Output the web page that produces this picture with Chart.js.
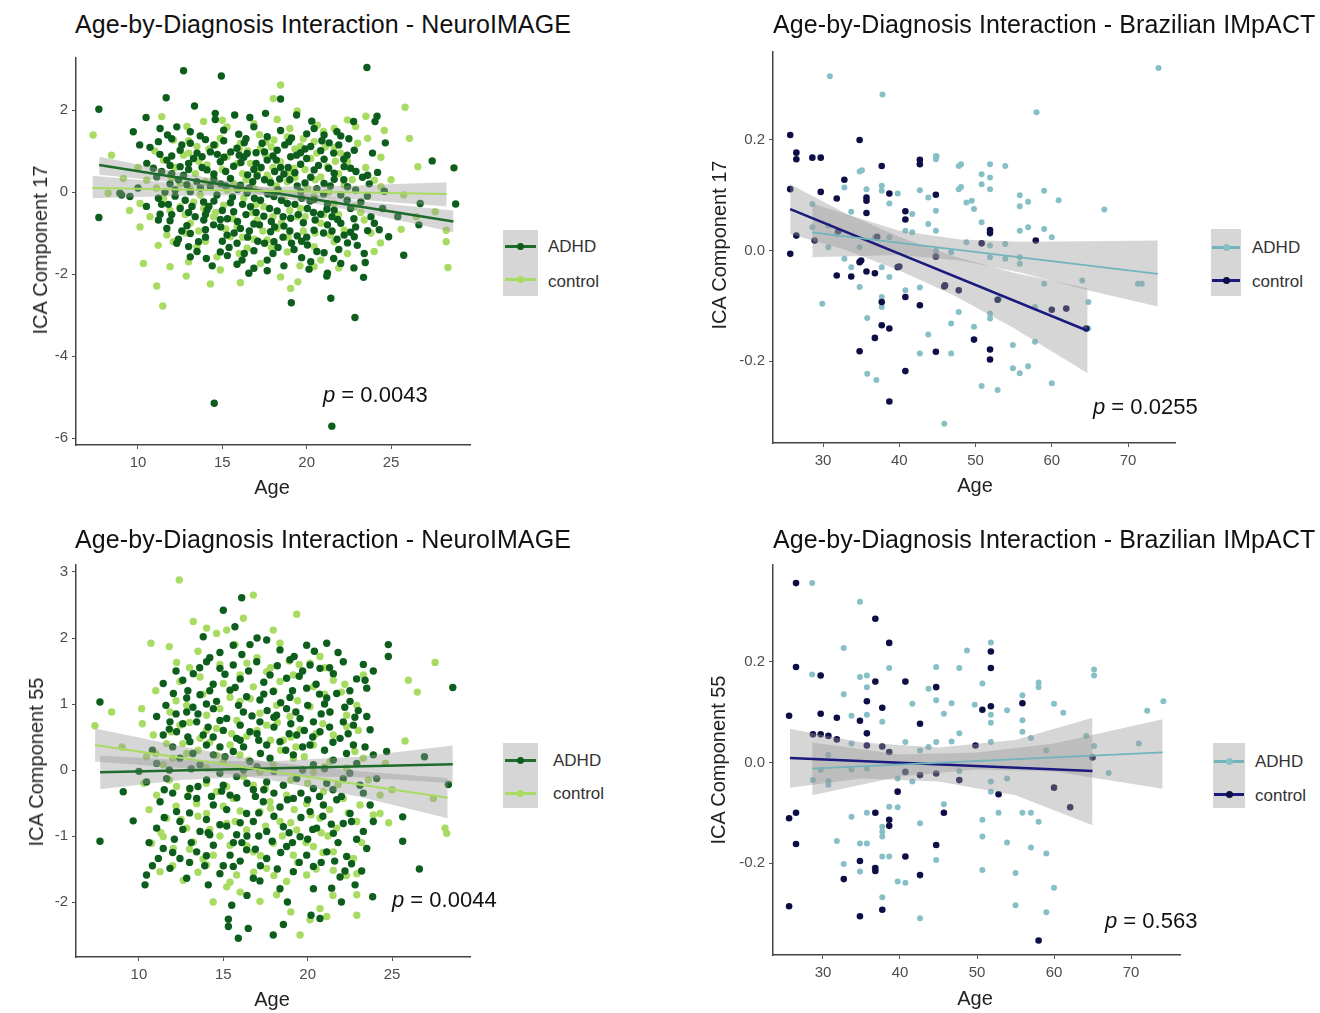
<!DOCTYPE html>
<html>
<head>
<meta charset="utf-8">
<script src="https://cdn.jsdelivr.net/npm/chart.js@4.4.0/dist/chart.umd.min.js"></script>
<style>
  body { margin:0; background:#fff; width:1320px; height:1013px; position:relative; overflow:hidden;
         font-family:"Liberation Sans", Arial, sans-serif; }
  canvas { position:absolute; }
  .txt { position:absolute; white-space:nowrap; line-height:1; color:#111; }
  .title { font-size:25px; letter-spacing:0.1px; }
  .ytitle { font-size:20px; transform:translate(-50%,-50%) rotate(-90deg); color:#222; }
  .xtitle { font-size:20px; transform:translate(-50%,-50%); color:#222; }
  .pval { font-size:22px; transform:translateY(-50%); }
  .leglab { font-size:17px; transform:translateY(-50%); color:#333; }
  .legbox { position:absolute; background:#d6d6d6; }
  .legline { position:absolute; height:3px; }
  .legdot { position:absolute; width:7px; height:7px; border-radius:50%; }
</style>
</head>
<body>
<canvas id="tl"></canvas>
<canvas id="tr"></canvas>
<canvas id="bl"></canvas>
<canvas id="br"></canvas>

<div class="txt title" style="left:75px; top:12px;">Age-by-Diagnosis Interaction - NeuroIMAGE</div>
<div class="txt title" style="left:773px; top:12px;">Age-by-Diagnosis Interaction - Brazilian IMpACT</div>
<div class="txt title" style="left:75px; top:527px;">Age-by-Diagnosis Interaction - NeuroIMAGE</div>
<div class="txt title" style="left:773px; top:527px;">Age-by-Diagnosis Interaction - Brazilian IMpACT</div>

<div class="txt ytitle" style="left:40px; top:250px;">ICA Component 17</div>
<div class="txt ytitle" style="left:719px; top:245px;">ICA Component 17</div>
<div class="txt ytitle" style="left:36px; top:762px;">ICA Component 55</div>
<div class="txt ytitle" style="left:718px; top:760px;">ICA Component 55</div>

<div class="txt xtitle" style="left:272px; top:487px;">Age</div>
<div class="txt xtitle" style="left:975px; top:485px;">Age</div>
<div class="txt xtitle" style="left:272px; top:999px;">Age</div>
<div class="txt xtitle" style="left:975px; top:998px;">Age</div>

<div class="txt pval" style="left:323px; top:395px;"><i>p</i> = 0.0043</div>
<div class="txt pval" style="left:1093px; top:407px;"><i>p</i> = 0.0255</div>
<div class="txt pval" style="left:392px; top:900px;"><i>p</i> = 0.0044</div>
<div class="txt pval" style="left:1105px; top:921px;"><i>p</i> = 0.563</div>

<!-- legends -->
<div class="legbox" style="left:503px; top:230px; width:35px; height:66px;"></div>
<div class="legline" style="left:505px; top:245px; width:31px; background:#1f6b2b;"></div>
<div class="legdot" style="left:517px; top:243px; background:#0d5e1c;"></div>
<div class="legline" style="left:505px; top:278px; width:31px; background:#a8db62;"></div>
<div class="legdot" style="left:517px; top:276px; background:#a8db62;"></div>
<div class="txt leglab" style="left:548px; top:246px;">ADHD</div>
<div class="txt leglab" style="left:548px; top:281px;">control</div>

<div class="legbox" style="left:1211px; top:229px; width:30px; height:67px;"></div>
<div class="legline" style="left:1212px; top:246px; width:28px; background:#72b4bc;"></div>
<div class="legdot" style="left:1223px; top:244px; background:#86c0c6;"></div>
<div class="legline" style="left:1212px; top:279px; width:28px; background:#1a1a7e;"></div>
<div class="legdot" style="left:1223px; top:277px; background:#0e0e47;"></div>
<div class="txt leglab" style="left:1252px; top:247px;">ADHD</div>
<div class="txt leglab" style="left:1252px; top:281px;">control</div>

<div class="legbox" style="left:503px; top:743px; width:35px; height:65px;"></div>
<div class="legline" style="left:505px; top:759px; width:31px; background:#1f6b2b;"></div>
<div class="legdot" style="left:517px; top:757px; background:#0d5e1c;"></div>
<div class="legline" style="left:505px; top:792px; width:31px; background:#a8db62;"></div>
<div class="legdot" style="left:517px; top:790px; background:#a8db62;"></div>
<div class="txt leglab" style="left:553px; top:760px;">ADHD</div>
<div class="txt leglab" style="left:553px; top:793px;">control</div>

<div class="legbox" style="left:1213px; top:743px; width:32px; height:65px;"></div>
<div class="legline" style="left:1214px; top:760px; width:30px; background:#72b4bc;"></div>
<div class="legdot" style="left:1226px; top:758px; background:#86c0c6;"></div>
<div class="legline" style="left:1214px; top:793px; width:30px; background:#1a1a7e;"></div>
<div class="legdot" style="left:1226px; top:791px; background:#0e0e47;"></div>
<div class="txt leglab" style="left:1255px; top:761px;">ADHD</div>
<div class="txt leglab" style="left:1255px; top:795px;">control</div>

<script>
// ---------- NeuroIMAGE, component 17 (top left) ----------
const tlXTicks = [10, 15, 20, 25];
const tlYTicks = [-6, -4, -2, 0, 2];
const tlAdhdPts = [
  [12.7,2.96],[14.94,2.83],[23.57,3.04],[7.68,2.02],[11.67,2.3],[18.45,2.27],[7.68,-0.62],[9.72,1.47],[10.48,1.82],
  [13.35,2.1],[14.58,1.92],[14.58,1.77],[15.73,1.88],[16.63,1.82],[17.56,1.92],[19.4,1.88],[20.3,1.73],[22.78,1.72],
  [24.17,1.85],[24.05,1.72],[24.66,1.2],[27.44,0.76],[28.73,0.59],[28.83,-0.29],[26.73,-0.28],[25.75,-1.54],
  [22.86,-3.06],[19.09,-2.7],[21.43,-2.59],[23.37,-2.08],[23.47,-1.72],[21.19,-2.05],[20.14,-1.88],[17.66,-1.92],
  [16.57,-1.98],[14.05,-1.62],[13.1,-1.58],[16.17,-1.66],[12.4,-1.15],[11.21,-0.68],[9.03,-0.07],[9.52,-0.11],
  [24.86,-1.09],[26.65,-0.8],[22.82,-1.09],[22.02,-0.76],[21.63,-0.44],[14.52,-5.15],[21.49,-5.71],
  [11.31,1.55],[11.75,1.39],[12.3,1.59],[13.1,1.47],[13.69,1.37],[15.08,1.51],[15.97,1.41],[16.87,1.59],[17.66,1.35],
  [18.45,1.5],[20.44,1.55],[21.03,1.39],[21.79,1.47],[22.02,1.37],
  [10.71,1.09],[11.21,1.23],[12.5,1.02],[13.1,1.19],[14.29,0.98],[15.08,1.25],[15.87,1.07],[16.47,0.94],[17.36,1.19],
  [18.25,1.02],[18.95,1.23],[19.64,0.96],[20.24,1.11],[20.83,1.01],[21.33,1.2],[22.82,1.02],
  [10.52,0.7],[10.91,0.58],[11.71,0.78],[12.5,0.62],[13.29,0.82],[14.09,0.54],[14.88,0.74],[15.67,0.63],[16.27,0.85],
  [16.87,0.55],[17.66,0.78],[18.45,0.6],[19.05,0.86],[19.64,0.68],[20.44,0.54],[21.03,0.8],[21.63,0.46],[22.22,0.62],
  [22.92,0.5],[23.61,0.41],
  [11.11,0.37],[11.9,0.2],[12.7,0.41],[13.49,0.25],[14.29,0.13],[15.48,0.33],[16.07,0.17],[17.06,0.39],[17.86,0.23],
  [18.65,0.44],[19.44,0.15],[20.24,0.36],[21.03,0.21],[21.63,0.31],[22.42,0.13],[23.31,0.36],[23.71,0.2],
  [8.93,-0.03],[11.21,-0.15],[13.1,0.01],[13.89,-0.24],[14.68,-0.07],[15.48,-0.26],[16.47,-0.02],[17.26,-0.2],
  [18.06,-0.11],[18.85,-0.28],[19.64,0.01],[20.44,-0.18],[21.23,-0.29],[22.02,-0.07],[23.21,-0.24],
  [11.31,-0.54],[12.5,-0.4],[13.39,-0.6],[14.09,-0.44],[14.88,-0.67],[15.67,-0.48],[16.67,-0.36],[17.46,-0.59],
  [18.25,-0.46],[19.05,-0.64],[20.04,-0.4],[20.83,-0.54],[21.83,-0.67],[23.81,-0.6],[24.01,-0.76],
  [11.71,-0.89],[13.1,-1.01],[14.48,-0.8],[15.28,-1.05],[16.07,-0.89],[16.87,-0.78],[17.86,-0.97],[18.65,-0.83],
  [19.44,-1.07],[20.44,-0.93],[21.23,-0.8],[22.22,-1.05],[23.61,-0.94],
  [13.0,-1.33],[13.59,-1.21],[14.88,-1.46],[15.87,-1.25],[16.87,-1.43],[18.06,-1.21],[19.25,-1.4],[20.04,-1.29],
  [21.03,-1.48],[22.42,-1.24],[23.41,-1.5],
  [15.87,-1.76],[16.87,-1.86],[17.66,-1.66],[18.65,-1.8],[20.24,-1.7],[21.23,-1.98],[22.02,-1.74],
  [12.0,1.3],[14.0,1.28],[16.4,1.3],[19.1,1.32],[20.0,1.42],[22.5,1.3],[10.1,1.15],
  [11.3,0.92],[12.0,0.88],[13.8,0.86],[14.7,0.92],[16.0,0.9],[17.0,0.96],[18.0,0.88],[19.4,0.9],[21.6,0.95],[22.4,0.9],[23.9,0.95],
  [11.4,0.5],[12.0,0.45],[13.0,0.55],[14.5,0.44],[15.2,0.5],[16.5,0.42],[17.3,0.6],[18.1,0.5],[19.3,0.47],[20.7,0.65],[22.6,0.58],[24.2,0.48],
  [10.0,0.1],[12.2,0.05],[12.9,0.18],[14.9,0.2],[15.9,0.06],[16.8,0.25],[18.3,0.05],[19.0,0.3],[20.6,0.08],[22.9,0.05],[24.6,0.02],
  [10.5,-0.35],[11.8,-0.3],[12.8,-0.2],[14.2,-0.35],[15.0,-0.45],[16.2,-0.3],[17.8,-0.4],[19.3,-0.3],[20.2,-0.22],[21.2,-0.42],
  [22.6,-0.4],[24.5,-0.4],[25.4,-0.6],
  [11.9,-0.7],[12.9,-0.82],[13.9,-0.68],[15.9,-0.72],[17.2,-0.8],[18.6,-0.6],[19.8,-0.75],[20.5,-0.68],[21.5,-0.95],[22.9,-0.85],[24.3,-0.92],
  [12.3,-1.25],[14.0,-1.1],[15.0,-1.2],[16.5,-1.1],[17.5,-1.25],[18.6,-1.1],[19.7,-1.2],[21.8,-1.15],[23.0,-1.3],
  [14.4,-1.8],[15.3,-1.55],[18.0,-1.5],[19.7,-1.6],[21.6,-1.62],[22.8,-1.85],
  [12.6,1.15],[13.5,0.95],[14.5,1.15],[15.5,0.98],[16.3,1.2],[17.5,0.98],[18.7,1.15],[19.9,1.05],[20.9,1.25],[21.9,1.15],
  [11.9,0.65],[13.0,0.7],[13.8,0.6],[15.1,0.85],[16.1,0.72],[17.0,0.7],[18.2,0.78],[18.9,0.6],[20.0,0.82],[21.3,0.58],[22.2,0.8],
  [11.6,0.0],[12.4,0.3],[13.7,0.1],[14.5,0.3],[15.2,0.15],[16.6,0.1],[17.5,0.3],[18.4,0.32],[19.9,0.22],[21.4,0.15],[22.2,0.3],
  [11.4,-0.3],[12.2,-0.1],[13.2,-0.35],[14.5,-0.22],[15.6,-0.12],[16.9,-0.15],[17.7,-0.05],[18.5,-0.2],[19.7,-0.15],
  [21.0,-0.05],[22.4,-0.2],[23.6,-0.1],
  [12.0,-0.55],[13.0,-0.5],[14.0,-0.55],[15.3,-0.65],[16.4,-0.55],[17.0,-0.5],[17.9,-0.72],[19.5,-0.55],[20.4,-0.5],
  [21.5,-0.6],[22.8,-0.65],
  [12.6,-0.95],[14.0,-0.92],[14.9,-0.85],[15.7,-1.0],[16.6,-0.95],[18.1,-0.85],[19.0,-0.95],[20.0,-1.1],[21.0,-1.0],[22.6,-0.98],
  [13.5,-1.45],[15.4,-1.35],[16.3,-1.5],[17.1,-1.2],[18.3,-1.35],[19.1,-1.25],[20.6,-1.45],[21.9,-1.4]
];
const tlCtrlPts = [
  [7.34,1.39],[18.45,2.61],[18.02,2.28],[25.83,2.07],[26.09,1.31],[26.59,0.62],[25.75,-0.07],[25.6,-0.91],[28.27,-1.21],
  [28.37,-1.84],[27.62,-0.48],[10.12,-0.85],[10.32,-1.74],[11.11,-2.29],[11.47,-2.78],[11.9,-1.82],[12.86,-2.05],
  [14.29,-2.24],[16.07,-2.21],[19.05,-2.35],[19.48,-2.19],[24.37,-1.24],[23.51,1.85],[11.41,1.84],[8.43,0.9],
  [9.13,0.33],[8.23,-0.03],[24.4,0.13],[28.27,-0.93],
  [13.89,1.72],[15.28,1.59],[16.87,1.67],[18.25,1.77],[19.44,1.98],[20.63,1.63],[21.63,1.55],[22.42,1.76],
  [12.1,1.27],[13.49,1.11],[14.88,1.31],[16.07,1.19],[17.26,1.07],[18.06,1.27],[18.85,1.35],[19.64,1.12],[20.44,1.23],
  [21.63,1.09],[23.02,1.19],[23.61,1.31],
  [11.51,0.78],[12.7,0.9],[14.09,0.66],[15.28,0.86],[16.67,0.7],[17.56,0.9],[18.45,0.74],[19.25,0.58],[20.24,0.82],
  [21.23,0.62],[22.42,0.74],
  [10.52,0.29],[11.9,0.41],[13.1,0.09],[14.48,0.37],[15.67,0.21],[16.87,0.09],[17.66,0.41],[18.85,0.25],[20.04,0.09],
  [20.83,0.37],[22.22,0.17],[24.01,0.29],
  [10.12,-0.28],[11.51,-0.15],[12.5,-0.36],[13.69,-0.07],[15.08,-0.32],[16.27,-0.15],[17.46,-0.36],[18.65,-0.2],
  [19.64,-0.4],[20.44,-0.11],[21.63,-0.28],[22.82,-0.36],
  [10.71,-0.6],[11.71,-1.05],[13.1,-0.76],[14.48,-0.6],[15.87,-0.85],[17.06,-0.68],[18.25,-0.89],[19.44,-0.6],
  [20.83,-0.76],[22.22,-0.93],[23.41,-0.68],
  [12.1,-1.21],[13.49,-1.33],[14.68,-1.58],[15.48,-1.09],[16.47,-1.37],[17.66,-1.17],[18.85,-1.46],[20.44,-1.33],
  [21.63,-1.21],[22.42,-1.5],
  [14.88,-1.9],[17.26,-1.74],[18.45,-2.07],[20.44,-1.82],[20.83,-1.66],
  [12.9,1.6],[15.0,1.75],[17.2,1.4],[19.0,1.55],[21.0,1.48],[22.9,1.6],[24.6,1.5],
  [11.0,1.0],[13.0,1.25],[14.2,1.05],[16.5,1.0],[17.9,1.1],[19.8,1.3],[21.1,1.1],[22.0,0.95],[24.4,0.85],
  [10.0,0.6],[12.2,0.6],[13.6,0.75],[15.9,0.7],[17.1,0.5],[18.0,0.6],[19.9,0.55],[21.7,0.75],[23.5,0.6],
  [11.1,0.1],[12.5,0.2],[14.0,0.25],[15.3,0.05],[16.4,0.3],[18.2,0.15],[19.3,0.35],[21.3,0.0],[22.7,0.3],[25.0,0.3],
  [9.5,-0.45],[11.9,-0.45],[13.3,-0.25],[14.6,-0.5],[16.8,-0.5],[18.0,-0.6],[19.0,-0.45],[21.0,-0.55],[23.2,-0.5],[26.5,-0.6],
  [11.2,-1.3],[12.8,-1.0],[14.0,-1.2],[16.2,-1.1],[17.4,-0.95],[19.8,-0.95],[21.4,-1.05],[23.8,-1.0],
  [13.0,-1.7],[16.0,-1.5],[17.9,-1.35],[19.6,-1.8],[21.9,-1.85],[24.0,-1.45],
  [13.0,0.95],[14.6,1.15],[16.0,1.05],[17.6,1.22],[19.3,1.05],[20.6,0.95],
  [12.0,0.35],[13.4,0.45],[15.0,0.55],[16.2,0.45],[17.8,0.3],[19.0,0.45],[20.5,0.3],[21.9,0.45],
  [12.8,-0.55],[13.9,-0.4],[15.6,-0.65],[17.0,-0.3],[18.5,-0.75],[19.9,-0.6],[21.9,-0.55],
  [13.6,-0.95],[15.2,-0.9],[16.9,-1.15],[18.9,-1.1],[20.5,-1.0]
];
const tlAdhdLineAge = [7.7, 28.7];
const tlAdhdLineVal = [0.66, -0.72];
const tlCtrlLineAge = [7.3, 28.3];
const tlCtrlLineVal = [0.1, -0.05];
const tlAdhdBandAge = [7.7, 12.5, 17.5, 23, 28.7];
const tlAdhdBandHi = [0.86, 0.47, 0.11, -0.22, -0.45];
const tlAdhdBandLo = [0.42, 0.23, -0.07, -0.47, -0.98];
const tlCtrlBandAge = [7.3, 12.5, 17.5, 23, 28.3];
const tlCtrlBandHi = [0.4, 0.21, 0.13, 0.16, 0.24];
const tlCtrlBandLo = [-0.15, -0.09, -0.07, -0.18, -0.35];

// ---------- Brazilian IMpACT, component 17 (top right) ----------
const trXTicks = [30, 40, 50, 60, 70];
const trYTicks = [-0.2, 0, 0.2];
const trCtrlPts = [
  [25.7,0.209],[25.7,0.111],[25.7,-0.006],[26.5,0.177],[26.5,0.165],[26.5,0.027],[28.6,0.168],[29.7,0.168],[29.7,0.106],
  [28.9,0.018],[31.8,0.094],[31.8,-0.045],[32.8,0.128],[33.7,-0.047],[34.8,0.2],[34.8,-0.021],[34.8,-0.182],[35.7,0.096],
  [35.7,0.09],[35.7,0.068],[35.7,-0.038],[36.8,-0.041],[36.8,-0.158],[37.7,0.153],[37.7,-0.093],[37.7,-0.135],
  [38.7,0.103],[38.7,-0.141],[38.7,-0.273],[39.8,-0.03],[40.8,0.071],[40.8,0.056],[40.8,-0.084],[40.8,-0.218],
  [42.7,0.164],[42.7,0.156],[42.7,-0.099],[44.8,0.101],[44.8,-0.011],[44.8,-0.183],[45.9,-0.065],[47.8,-0.072],
  [49.8,-0.161],[50.8,0.013],[51.9,0.037],[51.9,0.032],[51.9,-0.179],[51.9,-0.197],[52.9,-0.089],[57.9,0.018],
  [60.0,-0.107],[61.9,-0.105],[64.5,-0.141],[32.0,0.035],[37.1,0.025],[46.0,-0.063],[35.0,-0.018],[40.0,-0.029]
];
const trAdhdPts = [
  [30.9,0.315],[37.8,0.282],[74.0,0.33],[58.0,0.25],[34.8,0.143],[32.8,0.114],[33.7,0.07],[28.6,0.084],[29.9,-0.096],
  [28.6,0.042],[30.7,0.045],[32.8,-0.015],[33.7,-0.03],[34.8,-0.066],[35.7,0.111],[35.8,-0.122],[35.8,-0.223],
  [36.8,0.024],[37.0,-0.234],[37.7,0.117],[37.7,0.108],[37.7,-0.03],[37.7,-0.084],[37.7,-0.102],[38.7,0.085],
  [38.7,-0.048],[38.7,0.024],[39.8,0.103],[40.8,0.036],[40.8,-0.072],[41.7,0.066],[42.7,0.109],[42.7,-0.067],
  [42.7,-0.186],[43.8,-0.152],[43.8,0.096],[43.8,0.048],[44.8,0.171],[44.8,0.165],[44.8,0.072],[44.8,0.036],[44.8,0.0],
  [45.9,-0.313],[46.8,-0.003],[46.8,-0.186],[46.8,-0.132],[47.8,0.153],[47.8,0.111],[47.8,-0.111],[48.8,0.087],
  [48.8,0.015],[49.8,0.075],[49.8,-0.138],[50.8,0.138],[50.8,0.12],[50.8,0.051],[50.8,-0.245],[51.9,0.156],
  [51.9,0.132],[51.9,0.111],[51.9,0.03],[51.9,0.009],[51.9,-0.012],[51.9,-0.114],[51.9,-0.123],[52.9,-0.252],
  [53.9,0.153],[53.9,0.012],[53.9,-0.015],[54.9,-0.171],[54.9,-0.213],[55.8,0.1],[55.8,0.08],[55.8,0.036],
  [55.8,-0.012],[55.8,-0.024],[55.8,-0.222],[56.9,0.088],[56.9,0.042],[56.9,-0.209],[57.8,-0.165],[57.8,-0.102],
  [59.0,0.108],[59.0,0.039],[59.0,-0.06],[60.0,0.024],[60.0,-0.24],[60.9,0.091],[64.0,-0.054],[64.8,-0.093],
  [64.8,-0.141],[66.9,0.074],[71.3,-0.06],[71.8,-0.06],[30.7,0.006],[31.8,0.03],[34.8,0.006],[41.7,0.033],
  [48.1,0.156],[48.1,0.115],[49.5,0.09],[35.1,0.145],[44.9,0.17],[53.1,-0.087]
];
const trCtrlLineAge = [25.7, 64.7];
const trCtrlLineVal = [0.075, -0.145];
const trAdhdLineAge = [28.6, 73.9];
const trAdhdLineVal = [0.033, -0.042];
const trCtrlBandAge = [25.7, 33, 40, 47, 55, 64.7];
const trCtrlBandHi = [0.12, 0.067, 0.025, -0.01, -0.04, -0.068];
const trCtrlBandLo = [0.03, 0.001, -0.036, -0.08, -0.14, -0.222];
const trAdhdBandAge = [28.6, 40, 48, 56, 64.7, 73.9];
const trAdhdBandHi = [0.085, 0.036, 0.02, 0.016, 0.017, 0.018];
const trAdhdBandLo = [-0.012, -0.008, -0.018, -0.04, -0.072, -0.101];

// ---------- NeuroIMAGE, component 55 (bottom left) ----------
const blXTicks = [10, 15, 20, 25];
const blYTicks = [-2, -1, 0, 1, 2, 3];
const blAdhdPts = [
  [7.69,1.03],[7.69,-1.08],[9.07,-0.33],[9.66,-0.77],[16.09,2.61],[15.0,2.42],[15.69,2.17],[28.6,1.25],[28.34,-0.22],
  [24.78,1.9],[24.78,1.72],[26.92,0.2],[25.63,-0.71],[25.63,-1.08],[26.62,-1.5],[23.85,-1.92],[15.89,-2.55],
  [15.3,-2.26],[15.3,-2.37],[16.48,-2.4],[17.96,-2.5],[18.56,-2.34],[20.73,-2.25],[21.13,1.92],[23.3,1.6],[23.89,1.5],
  [23.4,1.36],[10.45,-1.59],[10.36,-1.74],[11.15,-1.34],[14.11,-1.74],[17.17,-1.68],[18.36,-1.8],[20.34,-1.8],
  [21.42,-1.79],[22.21,-1.53],[22.81,-1.74],[23.2,-1.53],
  [13.81,2.02],[14.8,1.78],[15.59,1.89],[16.58,1.9],[17.57,1.97],[18.36,1.82],[18.95,1.67],[19.94,1.89],
  [11.44,1.31],[13.22,1.46],[14.01,1.64],[14.8,1.54],[15.59,1.59],[16.98,1.64],[17.77,1.44],[18.75,1.39],[20.14,1.59],
  [20.73,1.54],[21.52,1.46],[22.11,1.64],
  [12.04,1.16],[12.83,1.09],[13.62,1.14],[14.6,1.04],[15.4,1.21],[16.38,1.11],[17.17,1.06],[17.96,1.19],[18.95,1.1],
  [19.94,1.24],[21.13,1.09],[21.72,1.16],[22.51,1.04],[23.5,1.24],
  [11.05,0.81],[11.84,0.73],[12.83,0.88],[13.42,0.73],[14.41,0.93],[15.2,0.78],[16.19,0.88],[17.17,0.73],[18.16,0.83],
  [18.75,0.93],[19.55,0.78],[20.34,0.73],[21.32,0.88],[22.11,0.73],[22.71,0.68],[23.5,0.81],
  [11.44,0.53],[12.23,0.58],[13.02,0.43],[13.81,0.53],[14.8,0.35],[15.79,0.48],[16.58,0.58],[17.57,0.38],[18.36,0.43],
  [19.35,0.53],[20.14,0.38],[20.73,0.58],[21.92,0.48],[22.71,0.38],[23.7,0.61],
  [11.05,0.1],[12.43,0.18],[13.62,0.08],[14.41,0.23],[15.59,0.28],[16.58,0.13],[17.77,0.18],[19.15,0.23],[20.34,0.08],
  [21.52,0.15],[22.91,0.1],[23.89,0.23],[24.68,0.28],
  [10.45,-0.18],[11.64,-0.13],[13.02,-0.28],[14.01,-0.15],[15.0,-0.23],[15.79,-0.1],[16.78,-0.3],[17.57,-0.18],
  [18.56,-0.23],[19.35,-0.13],[20.34,-0.28],[21.13,-0.2],[22.11,-0.13],[23.1,-0.23],[24.09,-0.13],
  [11.25,-0.48],[12.23,-0.63],[13.42,-0.43],[14.41,-0.53],[15.4,-0.38],[16.38,-0.66],[17.37,-0.48],[18.36,-0.56],
  [19.15,-0.43],[20.14,-0.63],[20.93,-0.53],[21.72,-0.45],[22.51,-0.66],[23.7,-0.53],
  [11.05,-0.88],[12.43,-0.78],[13.62,-0.93],[14.8,-0.83],[15.79,-0.98],[16.78,-0.78],[17.57,-0.93],[18.56,-0.86],
  [19.55,-1.01],[20.53,-0.88],[21.52,-0.96],[22.11,-0.81],[23.3,-0.93],[23.89,-0.78],
  [11.44,-1.19],[12.43,-1.34],[13.42,-1.24],[14.41,-1.14],[15.4,-1.29],[16.38,-1.21],[17.57,-1.34],[18.75,-1.16],
  [19.94,-1.29],[21.13,-1.24],[22.31,-1.31],[23.5,-1.19],
  [11.84,-1.49],[12.83,-1.64],[14.8,-1.57],[15.59,-1.46],[16.78,-1.64],[19.15,-1.54],[20.34,-1.46],[21.92,-1.62],
  [14.2,1.7],[16.1,1.75],[17.0,2.0],[19.2,1.72],[20.4,1.8],[21.8,1.78],
  [12.6,1.36],[14.4,1.3],[16.0,1.38],[17.4,1.33],[19.5,1.42],[20.5,1.3],[22.9,1.38],
  [11.6,0.98],[13.2,0.95],[14.0,1.0],[15.9,0.98],[17.6,0.9],[18.4,1.02],[20.0,0.98],[21.0,1.0],[22.2,0.95],[23.0,0.9],
  [11.8,0.62],[12.6,0.7],[14.1,0.65],[15.0,0.6],[16.0,0.68],[17.0,0.55],[18.0,0.65],[19.0,0.7],[19.8,0.6],[21.3,0.65],[22.4,0.55],
  [10.8,0.3],[12.0,0.35],[13.2,0.25],[14.0,0.38],[15.1,0.2],[16.2,0.35],[17.2,0.25],[18.7,0.3],[19.7,0.35],[21.0,0.3],
  [22.3,0.25],[23.4,0.35],
  [10.0,-0.02],[11.8,0.0],[13.1,0.02],[14.8,-0.05],[16.2,0.0],[17.0,0.05],[18.0,-0.02],[19.7,0.0],[21.0,0.02],[22.5,-0.05],
  [12.0,-0.35],[12.9,-0.4],[14.9,-0.32],[15.8,-0.42],[16.9,-0.4],[18.0,-0.35],[19.6,-0.35],[20.7,-0.4],[21.5,-0.3],[23.3,-0.35],
  [11.5,-0.72],[13.0,-0.65],[14.0,-0.75],[15.2,-0.6],[16.0,-0.8],[17.1,-0.65],[18.0,-0.7],[19.6,-0.72],[20.9,-0.7],[22.6,-0.78],
  [10.6,-1.1],[12.1,-1.05],[13.1,-1.1],[14.2,-0.98],[15.6,-1.1],[16.4,-1.0],[17.9,-1.08],[19.1,-1.1],[20.0,-1.05],
  [21.8,-1.1],[22.9,-1.05],
  [10.8,-1.45],[13.0,-1.4],[13.9,-1.45],[16.0,-1.38],[17.2,-1.45],[18.2,-1.5],[20.8,-1.4],[22.6,-1.42],
  [15.5,-2.05],[16.4,-1.9],[18.8,-2.0],[20.2,-2.2],[22.0,-2.0],
  [12.2,1.5],[13.6,1.55],[15.1,1.45],[16.5,1.5],[18.2,1.58],[19.7,1.5],[21.3,1.55],
  [12.9,1.2],[14.2,1.2],[15.7,1.25],[17.4,1.15],[19.1,1.2],[20.7,1.15],[22.5,1.2],
  [12.2,0.85],[13.5,0.85],[14.8,0.75],[16.7,0.82],[18.0,0.8],[19.3,0.88],[20.8,0.85],[22.8,0.8],
  [12.9,0.5],[14.4,0.5],[16.0,0.45],[17.1,0.45],[18.9,0.55],[20.3,0.5],[21.5,0.42],
  [11.5,-0.3],[13.5,-0.25],[14.3,-0.4],[16.4,-0.2],[17.4,-0.3],[18.8,-0.45],[20.0,-0.45],[22.0,-0.4],
  [12.6,-0.9],[14.1,-0.95],[15.2,-0.85],[16.1,-1.1],[17.1,-1.0],[18.9,-0.95],[20.3,-0.9],[21.4,-0.82],
  [12.0,-1.25],[14.0,-1.3],[15.0,-1.45],[16.9,-1.2],[18.4,-1.25],[19.5,-1.4],[21.6,-1.38]
];
const blCtrlPts = [
  [12.39,2.88],[16.78,2.65],[16.19,2.3],[19.35,2.36],[17.96,2.12],[10.71,1.92],[11.8,1.87],[12.23,1.63],[13.22,2.25],
  [27.55,1.63],[25.97,1.36],[26.5,1.18],[7.39,0.67],[8.38,0.88],[10.16,0.93],[25.77,0.44],[28.14,-0.88],[28.24,-0.96],
  [27.45,-0.43],[24.29,-0.66],[22.91,-1.89],[22.91,-1.57],[21.13,-2.22],[20.14,-2.27],[19.55,-2.5],[17.17,-1.99],
  [18.16,-1.89],[20.73,-2.1],[22.91,-2.2],[15.2,-1.77],[11.44,-1.01],[10.75,-1.11],
  [14.01,2.15],[14.6,2.07],[15.2,2.12],[18.36,1.92],[20.14,1.62],[20.73,1.72],
  [12.43,1.34],[13.62,1.41],[15.0,1.31],[15.99,1.44],[16.78,1.26],[17.57,1.49],[18.36,1.34],[19.15,1.44],[20.34,1.26],
  [21.52,1.36],[23.3,1.44],
  [11.84,0.88],[12.83,0.98],[14.01,0.83],[14.8,0.93],[15.99,1.04],[17.17,0.86],[18.16,0.98],[18.95,0.81],[20.14,0.96],
  [21.32,0.88],[22.31,0.83],[22.91,0.98],
  [10.85,0.53],[11.64,0.4],[12.43,0.68],[13.62,0.48],[14.6,0.63],[15.4,0.38],[16.38,0.51],[17.57,0.68],[18.56,0.45],
  [19.55,0.61],[20.34,0.38],[21.52,0.53],[22.31,0.66],
  [10.45,0.2],[11.44,0.08],[12.83,0.25],[14.01,0.03],[15.0,0.13],[15.99,0.23],[17.17,-0.03],[17.96,0.08],[19.15,0.18],
  [20.34,-0.03],[21.32,0.13],[22.31,0.03],[23.3,0.18],
  [11.05,-0.38],[12.23,-0.25],[13.42,-0.51],[14.6,-0.33],[15.59,-0.43],[16.78,-0.23],[17.77,-0.48],[18.75,-0.38],
  [19.94,-0.51],[20.93,-0.33],[22.11,-0.43],[23.1,-0.53],[24.29,-0.38],
  [11.64,-0.73],[12.83,-0.88],[14.01,-0.66],[15.2,-0.81],[16.38,-0.91],[17.17,-0.63],[18.36,-0.78],[19.35,-0.91],
  [20.73,-0.73],[21.72,-0.88],[22.91,-0.78],[23.89,-0.68],
  [12.04,-1.19],[13.22,-1.09],[14.41,-1.29],[15.4,-1.14],[16.78,-1.24],[17.96,-1.11],[19.15,-1.29],[20.34,-1.16],
  [21.52,-1.24],[22.71,-1.34],
  [11.25,-1.54],[12.63,-1.67],[14.01,-1.44],[15.79,-1.59],[17.57,-1.49],[18.75,-1.69],[19.94,-1.59],[21.52,-1.52],
  [13.5,1.8],[15.7,1.9],[17.0,1.7],[18.9,1.65],[21.0,1.55],[22.2,1.3],
  [11.0,1.2],[12.2,1.05],[13.8,1.15],[15.4,1.1],[16.6,1.08],[18.0,1.2],[19.4,1.05],[21.0,1.15],[22.0,1.18],
  [10.2,0.7],[11.9,0.58],[13.0,0.72],[14.2,0.42],[15.8,0.75],[17.0,0.6],[18.2,0.72],[19.0,0.5],[20.9,0.7],[23.0,0.6],
  [9.0,0.35],[11.0,0.25],[12.0,0.18],[13.5,0.3],[14.6,0.22],[16.5,0.15],[18.4,0.3],[19.8,0.2],[21.0,0.05],[22.8,0.28],[24.6,0.1],
  [10.3,-0.2],[11.8,-0.15],[13.0,-0.3],[14.0,-0.2],[15.2,-0.25],[16.2,-0.1],[17.5,-0.28],[19.0,-0.15],[20.0,-0.2],
  [21.8,-0.22],[23.6,-0.15],[25.0,-0.3],
  [10.6,-0.6],[12.2,-0.55],[13.5,-0.7],[15.0,-0.55],[16.0,-0.62],[17.8,-0.58],[19.2,-0.6],[20.2,-0.68],[21.3,-0.6],
  [22.4,-0.65],[24.8,-0.8],
  [11.3,-0.95],[13.0,-1.2],[14.8,-1.0],[16.4,-1.15],[18.5,-1.0],[19.9,-1.1],[21.2,-1.0],[23.2,-1.1],
  [12.0,-1.45],[13.5,-1.55],[15.0,-1.45],[16.8,-1.55],[18.0,-1.6],[20.5,-1.5],[22.3,-1.6],
  [14.4,-2.0],[16.0,-1.85],[19.0,-2.15],[21.5,-1.9],
  [13.0,1.55],[14.8,1.6],[16.4,1.62],[17.8,1.55],[19.5,1.6],
  [12.6,0.4],[14.0,0.6],[15.5,0.55],[17.8,0.45],[19.3,0.35],[20.5,0.55],
  [12.5,-0.75],[14.2,-0.9],[15.7,-0.78],[17.5,-0.85],[19.0,-0.8],[20.8,-0.95],
  [13.8,-1.35],[15.4,-1.7],[17.2,-1.3],[19.4,-1.4],[20.9,-1.25]
];
const blAdhdLineAge = [7.7, 28.6];
const blAdhdLineVal = [-0.035, 0.086];
const blCtrlLineAge = [7.4, 28.3];
const blCtrlLineVal = [0.38, -0.42];
const blAdhdBandAge = [7.7, 12.5, 17.5, 23, 28.6];
const blAdhdBandHi = [0.22, 0.15, 0.13, 0.2, 0.37];
const blAdhdBandLo = [-0.29, -0.15, -0.09, -0.11, -0.2];
const blCtrlBandAge = [7.4, 12.5, 17.5, 23, 28.3];
const blCtrlBandHi = [0.63, 0.36, 0.13, -0.02, -0.12];
const blCtrlBandLo = [0.13, 0.03, -0.14, -0.4, -0.73];

// ---------- Brazilian IMpACT, component 55 (bottom right) ----------
const brXTicks = [30, 40, 50, 60, 70];
const brYTicks = [-0.2, 0, 0.2];
const brCtrlPts = [
  [26.5,0.357],[26.5,0.19],[25.6,0.093],[25.6,-0.111],[26.5,-0.1],[26.5,-0.162],[25.6,-0.286],[29.7,0.173],[29.7,0.097],
  [28.7,0.056],[29.7,0.056],[30.7,0.053],[31.8,0.089],[31.8,0.046],[32.7,-0.232],[34.8,0.083],[34.8,-0.196],
  [34.8,-0.306],[35.7,0.122],[35.7,0.058],[35.7,0.034],[36.8,0.286],[36.8,0.161],[36.8,-0.1],[36.8,-0.21],[36.8,-0.216],
  [37.7,0.109],[37.7,0.032],[37.7,-0.293],[38.6,0.238],[38.6,-0.114],[38.6,-0.126],[38.6,0.021],[39.7,-0.058],
  [40.7,0.161],[40.7,-0.187],[40.7,-0.019],[42.6,0.077],[42.6,-0.224],[42.6,-0.025],[44.7,0.15],[44.7,-0.164],
  [44.7,-0.022],[45.7,-0.1],[47.7,-0.035],[49.8,0.034],[50.7,0.105],[51.8,0.221],[51.8,0.188],[51.8,0.112],
  [52.8,-0.063],[55.9,0.118],[58.0,-0.354],[60.0,-0.05],[62.1,-0.089],[65.0,0.01]
];
const brAdhdPts = [
  [28.6,0.357],[34.8,0.32],[32.7,0.228],[28.6,0.175],[29.7,0.173],[34.8,0.17],[35.7,0.173],[35.7,0.15],[35.7,0.095],
  [32.7,0.136],[33.7,0.093],[33.7,0.038],[30.7,0.015],[29.7,-0.015],[33.7,-0.014],[35.7,-0.012],[38.6,0.188],
  [37.7,0.081],[38.6,0.021],[39.7,-0.032],[40.7,0.041],[40.7,-0.017],[41.6,0.117],[41.6,-0.038],[42.6,0.024],
  [42.6,-0.121],[42.6,-0.31],[43.7,0.147],[43.7,0.031],[44.7,0.19],[44.7,0.124],[44.7,0.041],[44.7,-0.194],
  [45.7,0.097],[45.7,-0.083],[46.7,0.118],[46.7,0.042],[47.7,0.188],[47.7,0.058],[47.7,-0.017],[48.7,0.223],
  [49.7,0.115],[50.7,0.157],[50.7,-0.114],[50.7,-0.147],[50.7,-0.214],[51.8,0.239],[51.8,0.095],[51.8,0.079],
  [51.8,0.041],[51.8,-0.038],[51.8,-0.058],[52.8,-0.1],[53.9,0.104],[53.9,-0.159],[53.9,-0.032],[55.0,-0.22],
  [55.0,-0.284],[55.9,0.134],[55.9,0.084],[55.9,0.061],[55.9,-0.1],[57.0,-0.1],[57.0,-0.169],[57.0,0.049],
  [58.0,0.159],[58.0,0.15],[58.0,-0.118],[59.0,0.024],[59.0,-0.181],[59.0,-0.298],[60.0,0.117],[60.0,-0.249],
  [61.2,0.099],[64.2,0.053],[65.2,0.185],[65.2,0.173],[65.2,0.033],[67.1,-0.021],[71.0,0.038],[72.1,0.103],
  [74.2,0.122],[37.7,-0.268],[39.7,-0.237],[40.7,-0.239],[37.7,-0.187],[38.6,-0.187],[37.7,-0.128],[37.7,-0.138],
  [37.7,-0.147],[38.6,-0.088],[33.7,-0.108],[34.8,-0.161],[35.7,-0.161],[35.7,-0.1],[32.7,-0.202],[34.8,-0.217],
  [31.8,-0.156],[28.7,-0.035],[30.7,-0.037],[30.7,-0.044],[39.7,-0.089],[36.7,-0.21]
];
const brCtrlLineAge = [25.7, 65];
const brCtrlLineVal = [0.009, -0.017];
const brAdhdLineAge = [28.6, 74.1];
const brAdhdLineVal = [-0.012, 0.02];
const brCtrlBandAge = [25.7, 35, 45, 55, 65];
const brCtrlBandHi = [0.067, 0.04, 0.03, 0.045, 0.089];
const brCtrlBandLo = [-0.05, -0.032, -0.038, -0.065, -0.125];
const brAdhdBandAge = [28.6, 40, 50, 60, 74.1];
const brAdhdBandHi = [0.04, 0.016, 0.02, 0.038, 0.086];
const brAdhdBandLo = [-0.065, -0.028, -0.014, -0.018, -0.052];

// ---------- drawing ----------
const FONT = "'Liberation Sans', Arial, sans-serif";
const PAD_L = 60, PAD_T = 15, PAD_R = 15, PAD_B = 34;
const BAND = 'rgba(153,153,153,0.4)';

const zip = (xs, ys) => xs.map((x, i) => ({x: x, y: ys[i]}));
const toXY = arr => arr.map(p => ({x: p[0], y: p[1]}));

function drawPanel(id, plot, xRange, yRange, xTicks, yTicks, decimals, series) {
  const cv = document.getElementById(id);
  cv.width = plot.right - plot.left + PAD_L + PAD_R;
  cv.height = plot.bottom - plot.top + PAD_T + PAD_B;
  cv.style.left = (plot.left - PAD_L) + 'px';
  cv.style.top = (plot.top - PAD_T) + 'px';

  const datasets = [];
  series.forEach(s => {
    datasets.push({ data: toXY(s.pts), showLine: false, pointRadius: s.r, pointBorderWidth: 0,
                    pointBackgroundColor: s.color, order: s.ptOrder });
  });
  // confidence ribbons: upper edge, then lower edge filled back to it
  series.forEach(s => {
    datasets.push({ data: zip(s.bandAge, s.bandHi), showLine: true, borderWidth: 0, pointRadius: 0,
                    fill: false, order: 2 });
    datasets.push({ data: zip(s.bandAge, s.bandLo), showLine: true, borderWidth: 0, pointRadius: 0,
                    fill: '-1', backgroundColor: BAND, order: 2 });
  });
  series.forEach(s => {
    datasets.push({ data: zip(s.lineAge, s.lineVal), showLine: true, borderColor: s.lineColor,
                    borderWidth: s.lw, pointRadius: 0, fill: false, order: 1 });
  });

  const axisCommon = {
    type: 'linear',
    grid: { display: true, drawOnChartArea: false, drawTicks: true, tickLength: 4, color: '#555' },
    border: { display: true, color: '#444', width: 1.5 }
  };

  new Chart(cv, {
    type: 'line',
    data: { datasets: datasets },
    options: {
      responsive: false,
      animation: false,
      events: [],
      devicePixelRatio: 1,
      layout: { padding: { left: 0, top: PAD_T, right: PAD_R, bottom: 0 } },
      plugins: { legend: { display: false }, tooltip: { enabled: false } },
      scales: {
        x: Object.assign({}, axisCommon, {
          min: xRange[0], max: xRange[1],
          afterBuildTicks: sc => { sc.ticks = xTicks.map(v => ({ value: v })); },
          afterFit: sc => { sc.height = PAD_B; },
          ticks: { color: '#4d4d4d', font: { family: FONT, size: 15 }, padding: 5, maxRotation: 0, autoSkip: false }
        }),
        y: Object.assign({}, axisCommon, {
          min: yRange[0], max: yRange[1],
          afterBuildTicks: sc => { sc.ticks = yTicks.map(v => ({ value: v })); },
          afterFit: sc => { sc.width = PAD_L; },
          ticks: { color: '#4d4d4d', font: { family: FONT, size: 15 }, padding: 4, autoSkip: false,
                   callback: v => v.toFixed(decimals) }
        })
      }
    }
  });
}

const GREEN_D = '#0d5e1c', GREEN_DL = '#1f6b2b', GREEN_L = '#a8db62';
const TEAL = '#86c0c6', TEAL_L = '#72b4bc', NAVY = '#0e0e47', NAVY_L = '#1a1a7e';

drawPanel('tl', { left: 76, top: 58, right: 470, bottom: 445 }, [6.325, 29.68], [-6.17, 3.27],
  tlXTicks, tlYTicks, 0, [
    { pts: tlCtrlPts, color: GREEN_L, r: 3.7, ptOrder: 4, bandAge: tlCtrlBandAge, bandHi: tlCtrlBandHi,
      bandLo: tlCtrlBandLo, lineAge: tlCtrlLineAge, lineVal: tlCtrlLineVal, lineColor: GREEN_L, lw: 2 },
    { pts: tlAdhdPts, color: GREEN_D, r: 3.7, ptOrder: 3, bandAge: tlAdhdBandAge, bandHi: tlAdhdBandHi,
      bandLo: tlAdhdBandLo, lineAge: tlAdhdLineAge, lineVal: tlAdhdLineVal, lineColor: GREEN_DL, lw: 2.5 }
  ]);

drawPanel('tr', { left: 773, top: 52, right: 1175, bottom: 443 }, [23.44, 76.16], [-0.348, 0.359],
  trXTicks, trYTicks, 1, [
    { pts: trAdhdPts, color: TEAL, r: 3, ptOrder: 4, bandAge: trAdhdBandAge, bandHi: trAdhdBandHi,
      bandLo: trAdhdBandLo, lineAge: trAdhdLineAge, lineVal: trAdhdLineVal, lineColor: TEAL_L, lw: 1.8 },
    { pts: trCtrlPts, color: NAVY, r: 3.3, ptOrder: 3, bandAge: trCtrlBandAge, bandHi: trCtrlBandHi,
      bandLo: trCtrlBandLo, lineAge: trCtrlLineAge, lineVal: trCtrlLineVal, lineColor: NAVY_L, lw: 2.5 }
  ]);

drawPanel('bl', { left: 76, top: 565, right: 470, bottom: 957 }, [6.27, 29.62], [-2.833, 3.106],
  blXTicks, blYTicks, 0, [
    { pts: blCtrlPts, color: GREEN_L, r: 3.7, ptOrder: 4, bandAge: blCtrlBandAge, bandHi: blCtrlBandHi,
      bandLo: blCtrlBandLo, lineAge: blCtrlLineAge, lineVal: blCtrlLineVal, lineColor: GREEN_L, lw: 2 },
    { pts: blAdhdPts, color: GREEN_D, r: 3.7, ptOrder: 3, bandAge: blAdhdBandAge, bandHi: blAdhdBandHi,
      bandLo: blAdhdBandLo, lineAge: blAdhdLineAge, lineVal: blAdhdLineVal, lineColor: GREEN_DL, lw: 2.5 }
  ]);

drawPanel('br', { left: 773, top: 565, right: 1180, bottom: 955 }, [23.51, 76.36], [-0.383, 0.393],
  brXTicks, brYTicks, 1, [
    { pts: brAdhdPts, color: TEAL, r: 3, ptOrder: 4, bandAge: brAdhdBandAge, bandHi: brAdhdBandHi,
      bandLo: brAdhdBandLo, lineAge: brAdhdLineAge, lineVal: brAdhdLineVal, lineColor: TEAL_L, lw: 1.8 },
    { pts: brCtrlPts, color: NAVY, r: 3.3, ptOrder: 3, bandAge: brCtrlBandAge, bandHi: brCtrlBandHi,
      bandLo: brCtrlBandLo, lineAge: brCtrlLineAge, lineVal: brCtrlLineVal, lineColor: NAVY_L, lw: 2.5 }
  ]);
</script>
</body>
</html>
